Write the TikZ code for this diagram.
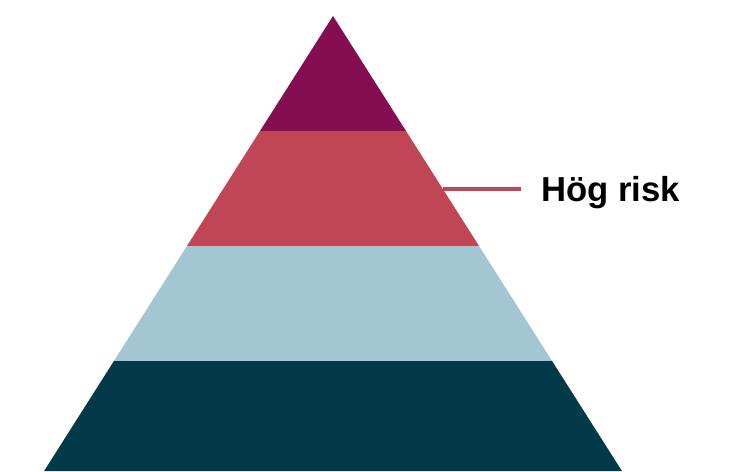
\documentclass[tikz,border=0pt]{standalone}
\usepackage{fontspec}
\setmainfont{Liberation Sans}
\definecolor{plum}{HTML}{850D52}
\definecolor{rose}{HTML}{C04655}
\definecolor{mist}{HTML}{A3C6D2}
\definecolor{deep}{HTML}{023A49}
\usetikzlibrary{positioning, calc}
\tikzset{
  band/.style={draw=none},
  lead/.style={rose, line width=2.4pt},
  lbl/.style={font=\fontsize{26}{30}\selectfont\bfseries, text=black, inner sep=0pt},
}
\begin{document}
\begin{tikzpicture}[x=0.75pt,y=-0.75pt]
  \useasboundingbox (0,0) rectangle (738,471);
  % pyramid outline
  \coordinate (apex) at (333,16);
  \coordinate (bl) at ($(apex)+(-0.635*455,455)$);
  \coordinate (br) at ($(apex)+(0.635*455,455)$);
  \begin{scope}
    \clip (apex)--(br)--(bl)--cycle;
    \foreach \c/\ya/\yb in {plum/16/131, rose/131/246, mist/246/361, deep/361/480}
      \fill[band,\c] (0,\ya) rectangle (738,\yb);
  \end{scope}
  % label
  \coordinate (edge) at (443,189);
  \coordinate (tip) at (521,189);
  \node[lbl,anchor=base west] (risk) at (541,201) {Hög risk};
  \draw[lead] (edge)--(tip);
\end{tikzpicture}
\end{document}
